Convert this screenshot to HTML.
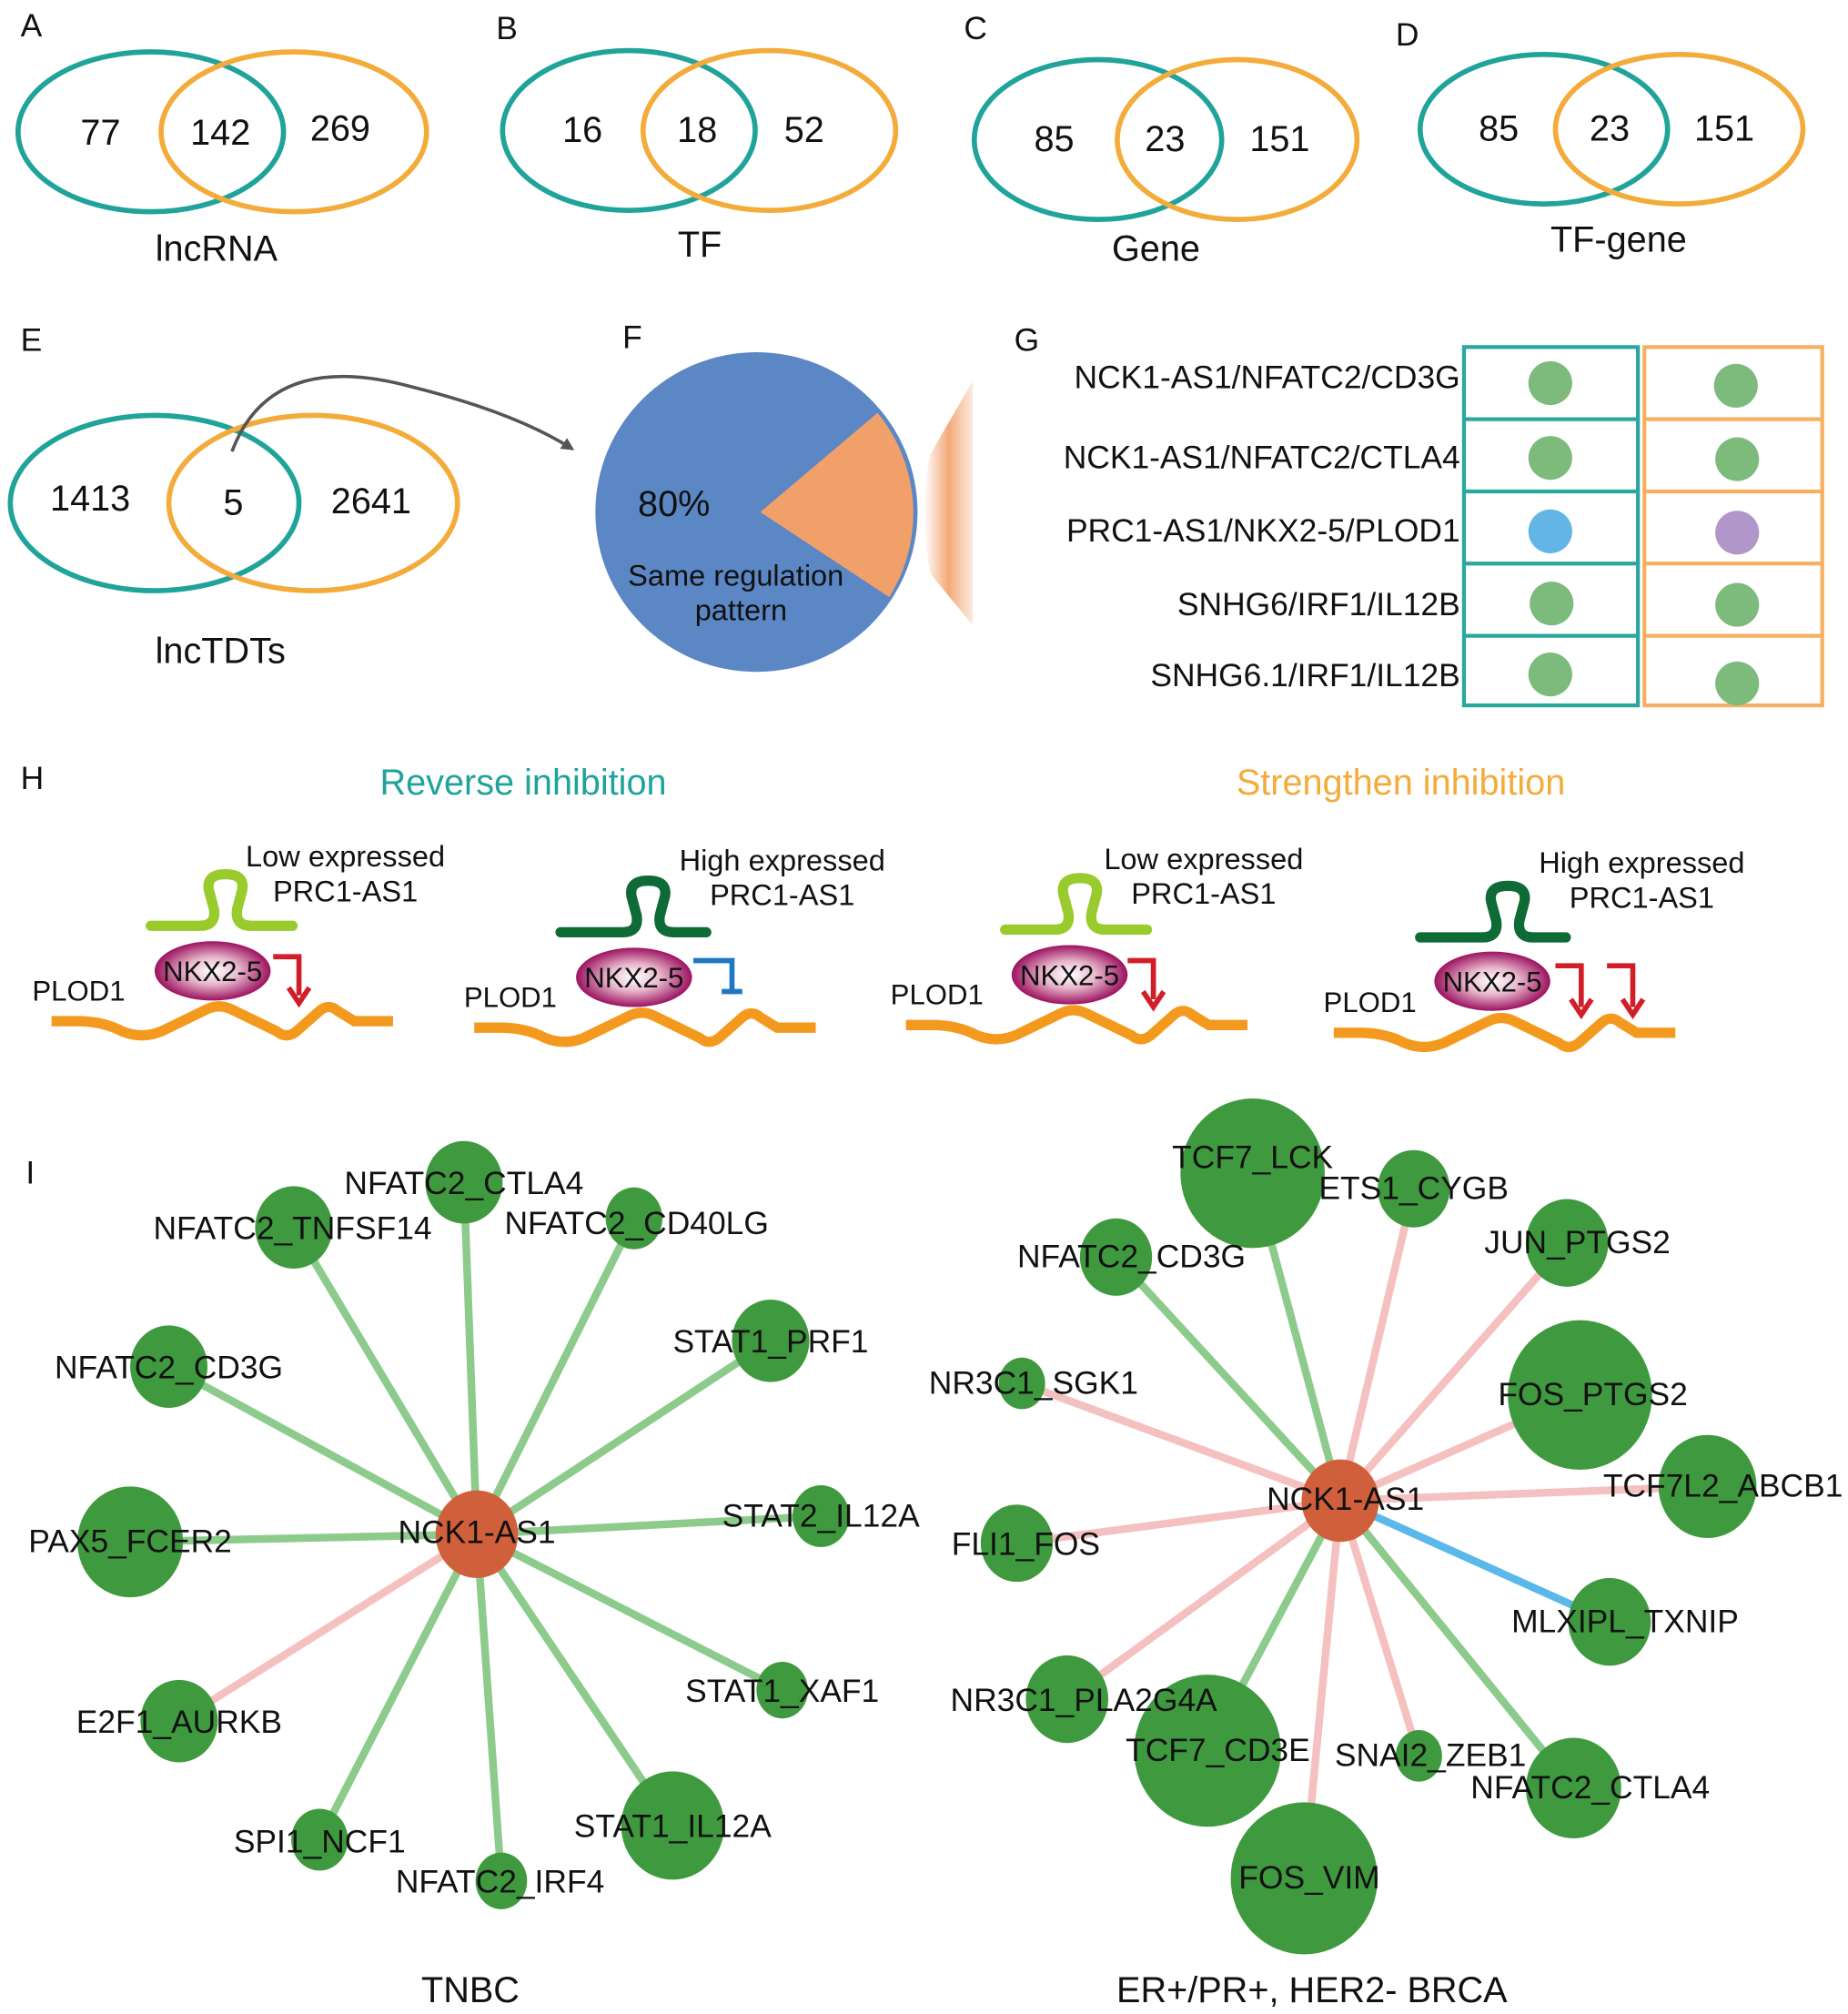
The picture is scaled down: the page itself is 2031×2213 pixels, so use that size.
<!DOCTYPE html>
<html><head><meta charset="utf-8"><style>
html,body{margin:0;padding:0;background:#fff;}
svg{display:block;}
text{font-family:"Liberation Sans",Arial,sans-serif;fill:#111;}
</style></head><body>
<svg width="2031" height="2213" viewBox="0 0 1434 1562" xmlns="http://www.w3.org/2000/svg">
<defs>
<radialGradient id="nk" cx="50%" cy="50%" r="50%"><stop offset="0" stop-color="#fff"/><stop offset="0.45" stop-color="#e8b8cc"/><stop offset="1" stop-color="#9c1260"/></radialGradient>
<linearGradient id="fade" x1="0" x2="1" y1="0" y2="0"><stop offset="0" stop-color="#f2a06a" stop-opacity="0"/><stop offset="0.5" stop-color="#f2a06a" stop-opacity="0.9"/><stop offset="1" stop-color="#f2a06a" stop-opacity="0.2"/></linearGradient>
<marker id="ah" markerWidth="10" markerHeight="10" refX="8" refY="5" orient="auto" markerUnits="userSpaceOnUse"><path d="M0,0 L10,5 L0,10 z" fill="#555"/></marker>
<g id="dna"><path d="M40,792 L60,792 Q80,792 95,800 Q110,806 125,800 L160,783 Q170,778 180,783 L215,800 Q222,806 230,800 L248,784 Q255,778 262,784 L275,792 L305,792" fill="none" stroke="#f39a1e" stroke-width="8"/></g>
</defs>

<g font-size="25">
<text x="16" y="28">A</text><text x="385" y="30">B</text><text x="748" y="30">C</text><text x="1083" y="35">D</text>
<text x="16" y="272">E</text><text x="483" y="270">F</text><text x="787" y="272">G</text>
<text x="16" y="612">H</text><text x="20" y="918">I</text>
</g>

<g fill="none" stroke-width="4">
<ellipse cx="117" cy="102" rx="103" ry="62" stroke="#1fa39a"/><ellipse cx="228" cy="102" rx="103" ry="62" stroke="#f3ab3b"/>
<ellipse cx="488" cy="101" rx="98" ry="62" stroke="#1fa39a"/><ellipse cx="597" cy="101" rx="98" ry="62" stroke="#f3ab3b"/>
<ellipse cx="852" cy="108" rx="96" ry="62" stroke="#1fa39a"/><ellipse cx="960" cy="108" rx="93" ry="62" stroke="#f3ab3b"/>
<ellipse cx="1198" cy="100" rx="96" ry="58" stroke="#1fa39a"/><ellipse cx="1303" cy="100" rx="96" ry="58" stroke="#f3ab3b"/>
<ellipse cx="120" cy="390" rx="112" ry="68" stroke="#1fa39a"/><ellipse cx="243" cy="390" rx="112" ry="68" stroke="#f3ab3b"/>
</g>
<g font-size="28" text-anchor="middle">
<text x="78" y="112">77</text><text x="171" y="112">142</text><text x="264" y="109">269</text>
<text x="452" y="110">16</text><text x="541" y="110">18</text><text x="624" y="110">52</text>
<text x="818" y="117">85</text><text x="904" y="117">23</text><text x="993" y="117">151</text>
<text x="1163" y="109">85</text><text x="1249" y="109">23</text><text x="1338" y="109">151</text>
<text x="70" y="396">1413</text><text x="181" y="399">5</text><text x="288" y="398">2641</text>
<text x="168" y="202">lncRNA</text><text x="543" y="199">TF</text><text x="897" y="202">Gene</text><text x="1256" y="195">TF-gene</text>
<text x="171" y="514">lncTDTs</text>
</g>
<path d="M180,350 Q210,270 320,300 Q400,320 444,348" fill="none" stroke="#555" stroke-width="2.5" marker-end="url(#ah)"/>

<ellipse cx="587" cy="397" rx="125" ry="124" fill="#5b87c5"/>
<path d="M590,397 L681,320 A125,124 0 0 1 690,463 Z" fill="#f2a06a"/>
<path d="M755,295 L755,485 L722,445 Q712,398 722,352 Z" fill="url(#fade)"/>
<g text-anchor="middle">
<text x="523" y="400" font-size="28">80%</text>
<text x="571" y="454" font-size="23">Same regulation</text>
<text x="575" y="481" font-size="23">pattern</text>
</g>

<g fill="none" stroke-width="3">
<rect x="1136" y="269" width="135" height="278" stroke="#2aa89e"/>
<rect x="1276" y="269" width="138" height="278" stroke="#f5b060"/>
<g stroke="#2aa89e"><line x1="1136" y1="325" x2="1271" y2="325"/><line x1="1136" y1="381" x2="1271" y2="381"/><line x1="1136" y1="437" x2="1271" y2="437"/><line x1="1136" y1="493" x2="1271" y2="493"/></g>
<g stroke="#f5b060"><line x1="1276" y1="325" x2="1414" y2="325"/><line x1="1276" y1="381" x2="1414" y2="381"/><line x1="1276" y1="437" x2="1414" y2="437"/><line x1="1276" y1="493" x2="1414" y2="493"/></g>
</g>
<g>
<circle cx="1203" cy="297" r="17" fill="#7dbb7d"/><circle cx="1347" cy="299" r="17" fill="#7dbb7d"/>
<circle cx="1203" cy="355" r="17" fill="#7dbb7d"/><circle cx="1348" cy="356" r="17" fill="#7dbb7d"/>
<circle cx="1203" cy="412" r="17" fill="#62b5e5"/><circle cx="1348" cy="413" r="17" fill="#b196c9"/>
<circle cx="1204" cy="468" r="17" fill="#7dbb7d"/><circle cx="1348" cy="469" r="17" fill="#7dbb7d"/>
<circle cx="1203" cy="523" r="17" fill="#7dbb7d"/><circle cx="1348" cy="530" r="17" fill="#7dbb7d"/>
</g>
<g font-size="25" text-anchor="end">
<text x="1133" y="301">NCK1-AS1/NFATC2/CD3G</text>
<text x="1133" y="363">NCK1-AS1/NFATC2/CTLA4</text>
<text x="1133" y="420">PRC1-AS1/NKX2-5/PLOD1</text>
<text x="1133" y="477">SNHG6/IRF1/IL12B</text>
<text x="1133" y="532">SNHG6.1/IRF1/IL12B</text>
</g>

<text x="406" y="616" font-size="28" text-anchor="middle" style="fill:#1fa39a">Reverse inhibition</text>
<text x="1087" y="616" font-size="28" text-anchor="middle" style="fill:#f3ab3b">Strengthen inhibition</text>

<g>
<use href="#dna"/>
<path d="M117,718 L155,718 Q168,718 166,705 L162,690 Q160,678 175,678 Q190,678 188,690 L184,705 Q182,718 195,718 L227,718" fill="none" stroke="#9acb2c" stroke-width="8" stroke-linecap="round"/>
<ellipse cx="165" cy="753" rx="45" ry="23" fill="url(#nk)"/>
<text x="165" y="761" font-size="22" text-anchor="middle">NKX2-5</text>
<text x="25" y="776" font-size="22">PLOD1</text>
</g>
<path d="M212,742 L232,742 L232,772" fill="none" stroke="#d11f2a" stroke-width="4"/><path d="M224,766 L232,778 L240,766" fill="none" stroke="#d11f2a" stroke-width="4"/>
<text x="268" y="672" font-size="23" text-anchor="middle">Low expressed</text><text x="268" y="699" font-size="23" text-anchor="middle">PRC1-AS1</text>

<g transform="translate(328,5)">
<use href="#dna"/>
<path d="M107,718 L155,718 Q168,718 166,705 L162,690 Q160,678 175,678 Q190,678 188,690 L184,705 Q182,718 195,718 L220,718" fill="none" stroke="#0e6b35" stroke-width="8" stroke-linecap="round"/>
<ellipse cx="164" cy="753" rx="45" ry="23" fill="url(#nk)"/>
<text x="164" y="761" font-size="22" text-anchor="middle">NKX2-5</text>
<text x="32" y="776" font-size="22">PLOD1</text>
<path d="M210,740 L240,740 L240,764 M232,764 L248,764" fill="none" stroke="#1f77c4" stroke-width="4"/>
</g>
<text x="607" y="675" font-size="23" text-anchor="middle">High expressed</text><text x="607" y="702" font-size="23" text-anchor="middle">PRC1-AS1</text>

<g transform="translate(663,3)">
<use href="#dna"/>
<path d="M117,718 L155,718 Q168,718 166,705 L162,690 Q160,678 175,678 Q190,678 188,690 L184,705 Q182,718 195,718 L227,718" fill="none" stroke="#9acb2c" stroke-width="8" stroke-linecap="round"/>
<ellipse cx="167" cy="753" rx="45" ry="23" fill="url(#nk)"/>
<text x="167" y="761" font-size="22" text-anchor="middle">NKX2-5</text>
<text x="28" y="776" font-size="22">PLOD1</text>
<path d="M212,742 L232,742 L232,772" fill="none" stroke="#d11f2a" stroke-width="4"/><path d="M224,766 L232,778 L240,766" fill="none" stroke="#d11f2a" stroke-width="4"/>
</g>
<text x="934" y="674" font-size="23" text-anchor="middle">Low expressed</text><text x="934" y="701" font-size="23" text-anchor="middle">PRC1-AS1</text>

<g transform="translate(995,9)">
<use href="#dna"/>
<path d="M107,718 L155,718 Q168,718 166,705 L162,690 Q160,678 175,678 Q190,678 188,690 L184,705 Q182,718 195,718 L220,718" fill="none" stroke="#0e6b35" stroke-width="8" stroke-linecap="round"/>
<ellipse cx="163" cy="752" rx="45" ry="23" fill="url(#nk)"/>
<text x="163" y="760" font-size="22" text-anchor="middle">NKX2-5</text>
<text x="32" y="776" font-size="22">PLOD1</text>
<path d="M212,740 L232,740 L232,772" fill="none" stroke="#d11f2a" stroke-width="4"/><path d="M224,766 L232,778 L240,766" fill="none" stroke="#d11f2a" stroke-width="4"/>
<path d="M252,740 L272,740 L272,772" fill="none" stroke="#d11f2a" stroke-width="4"/><path d="M264,766 L272,778 L280,766" fill="none" stroke="#d11f2a" stroke-width="4"/>
</g>
<text x="1274" y="677" font-size="23" text-anchor="middle">High expressed</text><text x="1274" y="704" font-size="23" text-anchor="middle">PRC1-AS1</text>

<g stroke-width="6" stroke="#8ccb8c" stroke-linecap="round">
<line x1="370" y1="1190" x2="360" y2="917"/><line x1="370" y1="1190" x2="228" y2="952"/>
<line x1="370" y1="1190" x2="492" y2="945"/><line x1="370" y1="1190" x2="598" y2="1040"/>
<line x1="370" y1="1190" x2="131" y2="1060"/><line x1="370" y1="1190" x2="637" y2="1176"/>
<line x1="370" y1="1190" x2="101" y2="1196"/><line x1="370" y1="1190" x2="607" y2="1311"/>
<line x1="370" y1="1190" x2="522" y2="1416"/><line x1="370" y1="1190" x2="248" y2="1427"/>
<line x1="370" y1="1190" x2="389" y2="1459"/>
<line x1="370" y1="1190" x2="139" y2="1335" stroke="#f5c0c0"/>
</g>
<g fill="#3f9a3f">
<ellipse cx="360" cy="917" rx="30" ry="32"/><ellipse cx="228" cy="952" rx="30" ry="32"/>
<ellipse cx="492" cy="945" rx="22" ry="24"/><ellipse cx="598" cy="1040" rx="30" ry="32"/>
<ellipse cx="131" cy="1060" rx="30" ry="32"/><ellipse cx="637" cy="1176" rx="22" ry="24"/>
<ellipse cx="101" cy="1196" rx="41" ry="43"/><ellipse cx="607" cy="1311" rx="20" ry="22"/>
<ellipse cx="139" cy="1335" rx="30" ry="32"/><ellipse cx="522" cy="1416" rx="40" ry="42"/>
<ellipse cx="248" cy="1427" rx="22" ry="24"/><ellipse cx="389" cy="1459" rx="20" ry="22"/>
</g>
<ellipse cx="370" cy="1190" rx="32" ry="34" fill="#d0603c"/>
<g font-size="25" text-anchor="middle">
<text x="360" y="926">NFATC2_CTLA4</text><text x="227" y="961">NFATC2_TNFSF14</text>
<text x="494" y="957">NFATC2_CD40LG</text><text x="598" y="1049">STAT1_PRF1</text>
<text x="131" y="1069">NFATC2_CD3G</text><text x="637" y="1184">STAT2_IL12A</text>
<text x="101" y="1204">PAX5_FCER2</text><text x="607" y="1320">STAT1_XAF1</text>
<text x="139" y="1344">E2F1_AURKB</text><text x="522" y="1425">STAT1_IL12A</text>
<text x="248" y="1437">SPI1_NCF1</text><text x="388" y="1468">NFATC2_IRF4</text>
<text x="370" y="1197">NCK1-AS1</text>
<text x="365" y="1553" font-size="28">TNBC</text>
</g>

<g stroke-width="6" stroke="#f5c0c0" stroke-linecap="round">
<line x1="1040" y1="1164" x2="972" y2="910" stroke="#8ccb8c"/>
<line x1="1040" y1="1164" x2="866" y2="975" stroke="#8ccb8c"/>
<line x1="1040" y1="1164" x2="937" y2="1358" stroke="#8ccb8c"/>
<line x1="1040" y1="1164" x2="1221" y2="1387" stroke="#8ccb8c"/>
<line x1="1040" y1="1164" x2="1249" y2="1258" stroke="#5bb8ea"/>
<line x1="1040" y1="1164" x2="1097" y2="922"/><line x1="1040" y1="1164" x2="1216" y2="964"/>
<line x1="1040" y1="1164" x2="793" y2="1073"/><line x1="1040" y1="1164" x2="1226" y2="1082"/>
<line x1="1040" y1="1164" x2="1325" y2="1153"/><line x1="1040" y1="1164" x2="789" y2="1197"/>
<line x1="1040" y1="1164" x2="828" y2="1318"/><line x1="1040" y1="1164" x2="1101" y2="1362"/>
<line x1="1040" y1="1164" x2="1012" y2="1457"/>
</g>
<g fill="#3f9a3f">
<ellipse cx="972" cy="910" rx="56" ry="58"/><ellipse cx="1097" cy="922" rx="28" ry="30"/>
<ellipse cx="866" cy="975" rx="28" ry="30"/><ellipse cx="1216" cy="964" rx="32" ry="34"/>
<ellipse cx="793" cy="1073" rx="18" ry="20"/><ellipse cx="1226" cy="1082" rx="56" ry="58"/>
<ellipse cx="1325" cy="1153" rx="38" ry="40"/><ellipse cx="789" cy="1197" rx="28" ry="30"/>
<ellipse cx="1249" cy="1258" rx="32" ry="34"/><ellipse cx="828" cy="1318" rx="32" ry="34"/>
<ellipse cx="937" cy="1358" rx="57" ry="59"/><ellipse cx="1101" cy="1362" rx="18" ry="20"/>
<ellipse cx="1221" cy="1387" rx="37" ry="39"/><ellipse cx="1012" cy="1457" rx="57" ry="59"/>
</g>
<ellipse cx="1040" cy="1164" rx="30" ry="32" fill="#d0603c"/>
<g font-size="25" text-anchor="middle">
<text x="972" y="906">TCF7_LCK</text><text x="1097" y="930">ETS1_CYGB</text>
<text x="878" y="983">NFATC2_CD3G</text><text x="1224" y="972">JUN_PTGS2</text>
<text x="802" y="1081">NR3C1_SGK1</text><text x="1236" y="1090">FOS_PTGS2</text>
<text x="1337" y="1161">TCF7L2_ABCB1</text><text x="796" y="1206">FLI1_FOS</text>
<text x="1261" y="1266">MLXIPL_TXNIP</text><text x="841" y="1327">NR3C1_PLA2G4A</text>
<text x="945" y="1366">TCF7_CD3E</text><text x="1110" y="1370">SNAI2_ZEB1</text>
<text x="1234" y="1395">NFATC2_CTLA4</text><text x="1016" y="1465">FOS_VIM</text>
<text x="1044" y="1171">NCK1-AS1</text>
<text x="1018" y="1553" font-size="28">ER+/PR+, HER2- BRCA</text>
</g>
</svg>
</body></html>
